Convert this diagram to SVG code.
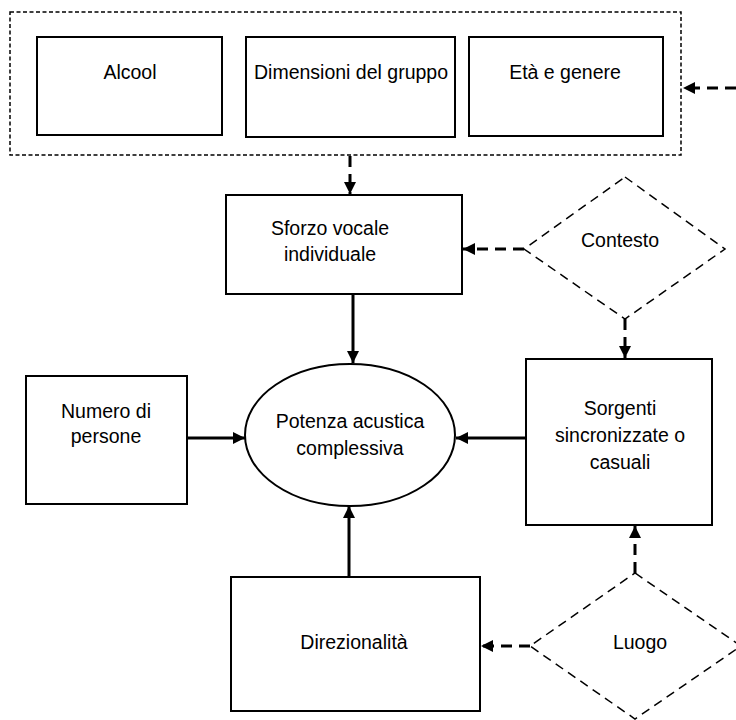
<svg xmlns="http://www.w3.org/2000/svg" width="736" height="720" viewBox="0 0 736 720">
<style>
text{font-family:"Liberation Sans",Arial,sans-serif;font-size:19.5px;fill:#000;text-anchor:middle}
.box{fill:#fff;stroke:#000;stroke-width:2}
.outer{fill:#fff;stroke:#000;stroke-width:1.5;stroke-dasharray:4 2.5}
.dia{fill:#fff;stroke:#000;stroke-width:1.5;stroke-dasharray:9 6}
.c{fill:none;stroke:#000;stroke-width:3}
.d{stroke-dasharray:11 7}
</style>
<defs>
<marker id="ah" viewBox="0 0 10 10" refX="10" refY="5" markerWidth="4" markerHeight="4" orient="auto" markerUnits="strokeWidth">
<path d="M0,0 L10,5 L0,10 Z" fill="#000"/>
</marker>
</defs>
<g id="group-outer"><rect class="outer" x="10" y="12" width="671" height="143"/></g>
<g id="alcool"><rect class="box" x="37" y="37" width="185" height="98"/><text x="130" y="79">Alcool</text></g>
<g id="dimensioni"><rect class="box" x="246" y="37" width="209" height="100"/><text x="351" y="79">Dimensioni del gruppo</text></g>
<g id="eta"><rect class="box" x="469" y="37" width="194" height="99"/><text x="565" y="79">Età e genere</text></g>
<g id="sforzo"><rect class="box" x="226" y="195" width="236" height="99"/><text x="330" y="235">Sforzo vocale</text><text x="330" y="261">individuale</text></g>
<g id="contesto"><polygon class="dia" points="625,177 725,249 625,319 524,249"/><text x="620" y="247">Contesto</text></g>
<g id="numero"><rect class="box" x="26" y="376" width="161" height="128"/><text x="106" y="418">Numero di</text><text x="106" y="443">persone</text></g>
<g id="potenza"><ellipse class="box" cx="350" cy="435" rx="105" ry="71"/><text x="350" y="428">Potenza acustica</text><text x="350" y="455">complessiva</text></g>
<g id="sorgenti"><rect class="box" x="526" y="359" width="186" height="166"/><text x="620" y="415">Sorgenti</text><text x="620" y="442">sincronizzate o</text><text x="620" y="469">casuali</text></g>
<g id="direzionalita"><rect class="box" x="231" y="577" width="249" height="134"/><text x="354" y="649">Direzionalità</text></g>
<g id="luogo"><polygon class="dia" points="635,573 741,646 635,719 530,646"/><text x="640" y="649">Luogo</text></g>
<g id="connectors">
<line class="c d" x1="350" y1="156" x2="350" y2="194" marker-end="url(#ah)"/>
<line class="c d" x1="736" y1="88" x2="683" y2="88" marker-end="url(#ah)"/>
<line class="c d" x1="524" y1="249" x2="463" y2="249" marker-end="url(#ah)"/>
<line class="c d" x1="625" y1="319" x2="625" y2="358" marker-end="url(#ah)"/>
<line class="c" x1="353" y1="294" x2="353" y2="363" marker-end="url(#ah)"/>
<line class="c" x1="188" y1="438" x2="245" y2="438" marker-end="url(#ah)"/>
<line class="c" x1="525" y1="438" x2="456" y2="438" marker-end="url(#ah)"/>
<line class="c" x1="349" y1="577" x2="349" y2="506" marker-end="url(#ah)"/>
<line class="c d" x1="635" y1="573" x2="635" y2="526" marker-end="url(#ah)"/>
<line class="c d" x1="530" y1="646" x2="481" y2="646" marker-end="url(#ah)"/>
</g>
</svg>
